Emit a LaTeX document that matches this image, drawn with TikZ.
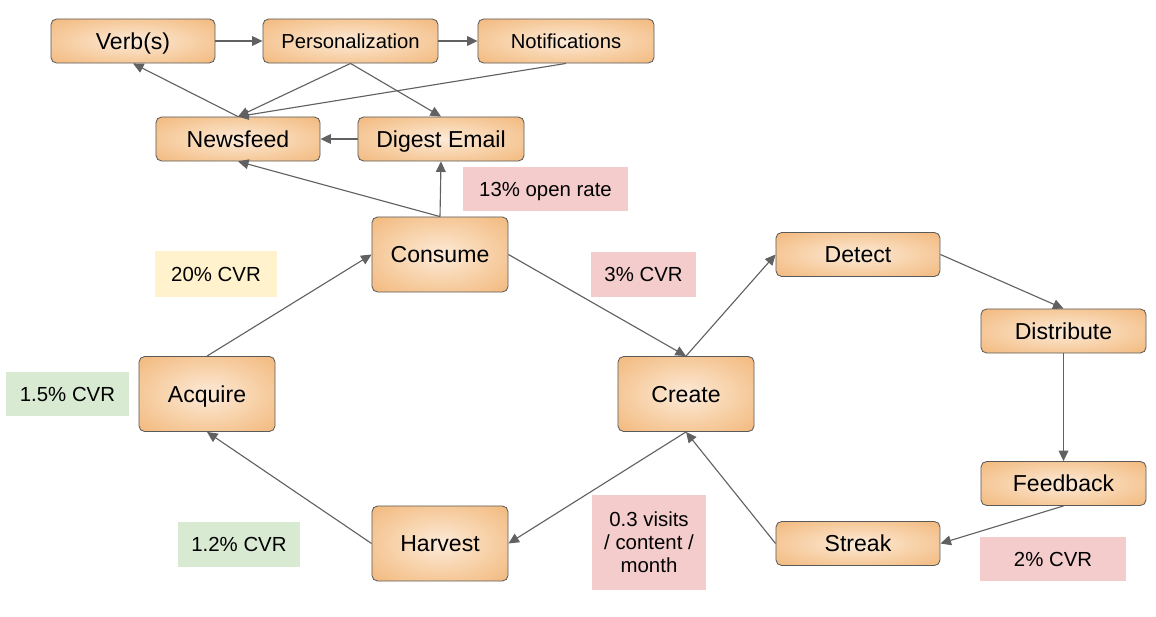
\documentclass[tikz,border=0pt]{standalone}
\usepackage{fontspec}
\setmainfont{Liberation Sans}
\usetikzlibrary{arrows.meta}

\definecolor{linkgray}{HTML}{616161}
\definecolor{boxgray}{HTML}{5A5A5A}
\definecolor{pinknote}{HTML}{F4CCCC}
\definecolor{yellownote}{HTML}{FFF2CC}
\definecolor{greennote}{HTML}{D9EAD3}
\pgfdeclareradialshading{nodeglow}{\pgfpoint{0bp}{0bp}}{rgb(0bp)=(0.99,0.92,0.85); rgb(18bp)=(0.97,0.82,0.66); rgb(42bp)=(0.94,0.69,0.43); rgb(50bp)=(0.93,0.66,0.40)}

\begin{document}
\begin{tikzpicture}[x=0.025cm,y=-0.025cm,->,>={Triangle[length=7.5pt,width=7pt]},
		every edge/.style={draw=linkgray,line width=0.8pt},
		base node/.style={rectangle,rounded corners=4pt,draw=boxgray,line width=0.6pt,shading=nodeglow,inner sep=0pt,font=\fontsize{16.4}{19}\selectfont,text height=11.8pt,text depth=0pt},
		wide node/.style={base node,minimum width=4.1cm,minimum height=1.1cm},
		big node/.style={base node,minimum width=3.4cm,minimum height=1.875cm},
		note/.style={rectangle,inner sep=0pt,align=center,font=\fontsize{14.5}{16.4}\selectfont},
		one line/.style={text height=10.4pt,text depth=0pt}]
		\useasboundingbox (0,0) rectangle (1156,617);
		% top row
		\node[wide node] (verb) at (133,41) {Verb(s)};
		\node[wide node, minimum width=4.375cm, font=\fontsize{14.4}{17}\selectfont, text height=10.3pt] (pers) at (350.5,41) {Personalization};
		\node[wide node, minimum width=4.4cm, font=\fontsize{14.4}{17}\selectfont, text height=10.3pt] (notif) at (566,41) {Notifications};
		\node[wide node] (feed) at (238,139) {Newsfeed};
		\node[wide node, minimum width=4.15cm] (digest) at (441,139) {Digest Email};
		% main loop
		\node[big node] (consume) at (440,254.5) {Consume};
		\node[big node] (acquire) at (207,394) {Acquire};
		\node[big node] (create) at (686,394) {Create};
		\node[big node] (harvest) at (440,543.5) {Harvest};
		% right loop
		\node[wide node] (detect) at (858,254.5) {Detect};
		\node[wide node, minimum width=4.125cm] (distrib) at (1063.5,331) {Distribute};
		\node[wide node, minimum width=4.125cm] (feedback) at (1063.5,483.5) {Feedback};
		\node[wide node] (streak) at (858,543.5) {Streak};
		% rates
		\node[note, one line, fill=pinknote, minimum width=4.125cm, minimum height=1.1cm] (open) at (545.5,189) {13\% open rate};
		\node[note, one line, fill=yellownote, minimum width=3.05cm, minimum height=1.15cm] (cvr20) at (216,274) {20\% CVR};
		\node[note, one line, fill=pinknote, minimum width=2.625cm, minimum height=1.125cm] (cvr3) at (643.5,274.5) {3\% CVR};
		\node[note, one line, fill=greennote, minimum width=3.075cm, minimum height=1.1cm] (cvr15) at (67.5,394) {1.5\% CVR};
		\node[note, one line, fill=greennote, minimum width=3.05cm, minimum height=1.125cm] (cvr12) at (239,544.5) {1.2\% CVR};
		\node[note, fill=pinknote, minimum width=2.85cm, minimum height=2.375cm] (visits) at (649,542.5) {0.3 visits\\ / content /\\ month};
		\node[note, one line, fill=pinknote, minimum width=3.65cm, minimum height=1.1cm] (cvr2) at (1053,559) {2\% CVR};
		\path[->]
		(verb) edge (pers)
		(pers) edge (notif)
		(feed.north) edge (verb.south)
		(pers.south) edge (feed.north)
		(pers.south) edge (digest.north)
		(notif.south) edge (feed.north)
		(digest) edge (feed)
		(consume.north) edge (digest.south)
		(consume.north) edge (feed.south)
		(acquire.north) edge (consume.west)
		(consume.east) edge (create.north)
		(create.north) edge (detect.west)
		(detect.east) edge (distrib.north)
		(distrib) edge (feedback)
		(feedback.south) edge (streak.east)
		(streak.west) edge (create.south)
		(create.south) edge (harvest.east)
		(harvest.west) edge (acquire.south);
\end{tikzpicture}
\end{document}
